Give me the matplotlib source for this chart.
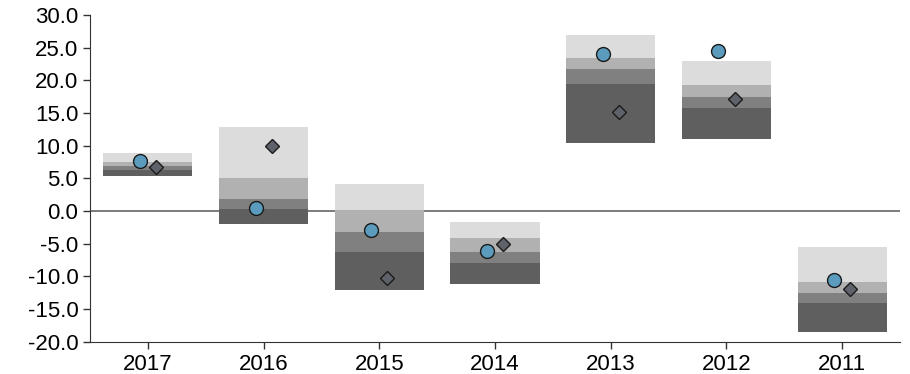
import matplotlib
matplotlib.use("Agg")
import matplotlib.pyplot as plt
import numpy as np

years = ["2017", "2016", "2015", "2014", "2013", "2012", "2011"]
# band edges from bottom to top (worst, 75th, 50th, 25th, best)
low = [5.4, -2.0, -12.0, -11.1, 10.4, 11.0, -18.5]
q3 = [6.35, 0.35, -6.2, -8.0, 19.45, 15.7, -14.1]
q2 = [6.95, 1.8, -3.2, -6.3, 21.7, 17.5, -12.5]
q1 = [7.5, 5.1, 0.2, -4.1, 23.4, 19.35, -10.9]
high = [8.9, 12.8, 4.2, -1.7, 27.0, 23.0, -5.5]
fund = [7.7, 0.5, -2.9, -6.1, 24.1, 24.45, -10.5]
index = [6.7, 9.9, -10.2, -5.1, 15.2, 17.2, -11.9]

band_colors = ["#5f5f5f", "#7f807f", "#b1b1b1", "#dcdcdc"]

plt.rcParams['font.family'] = ['Liberation Sans', 'DejaVu Sans']

fig = plt.figure(figsize=(9.1, 3.74), dpi=100)
ax = fig.add_axes([0.099, 0.086, 0.89, 0.874])

x = np.arange(len(years))
edges = [low, q3, q2, q1, high]
for k in range(4):
    b = np.array(edges[k])
    t = np.array(edges[k + 1])
    ax.bar(x, t - b, bottom=b, width=0.77, color=band_colors[k], linewidth=0, zorder=2)

ax.axhline(0, color="#666666", linewidth=1.2, zorder=1)

ax.plot(x - 0.07, fund, linestyle="none", marker="o", markersize=10,
        markerfacecolor="#5b9bbd", markeredgecolor="#1a1a1a", markeredgewidth=1, zorder=4)
ax.plot(x + 0.07, index, linestyle="none", marker="D", markersize=6.8,
        markerfacecolor="#5f626b", markeredgecolor="#1a1a1a", markeredgewidth=1, zorder=4)

ax.set_xlim(-0.5, 6.5)
ax.set_ylim(-20, 30)
ax.set_xticks(x)
ax.set_xticklabels(years)
ax.set_yticks(np.arange(-20, 31, 5))
ax.set_yticklabels(["%.1f" % v for v in np.arange(-20, 31, 5)])
ax.tick_params(labelsize=16, length=5, width=1, color="#333333")
for s in ["top", "right"]:
    ax.spines[s].set_visible(False)
for s in ["left", "bottom"]:
    ax.spines[s].set_color("#333333")

fig.savefig("out.png", dpi=100)
